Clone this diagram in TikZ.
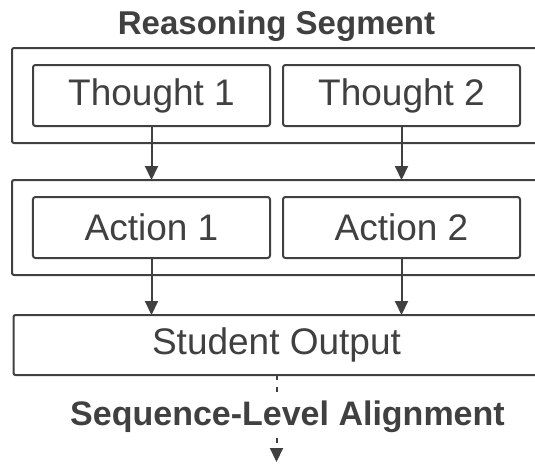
\documentclass[tikz,border=0pt]{standalone}
\usepackage{fontspec}
\setmainfont{Liberation Sans}
\usepackage{tikz}
\usetikzlibrary{matrix,positioning,arrows.meta}
\definecolor{inkgray}{HTML}{404040}

\begin{document}
\begin{tikzpicture}[x=1pt, y=1pt, >={Triangle[length=14pt,width=13pt]}]
\tikzset{
stepbox/.style={
  draw=inkgray,
  line width=2pt,
  rounded corners=2.5pt,
  minimum width=237pt,
  minimum height=61pt,
  inner sep=0pt,
  outer sep=0pt,
  text=inkgray,
  font=\fontsize{37}{40}\selectfont
  },
segmat/.style={
  matrix,
  draw=inkgray,
  line width=2pt,
  rounded corners=2pt,
  inner xsep=20pt,
  inner ysep=16pt,
  outer sep=0pt,
  column sep=11pt,
  style={nodes=stepbox}
  },
headtext/.style={
  text=inkgray,
  inner xsep=0pt,
  inner ysep=6pt,
  font=\bfseries\fontsize{34}{38}\selectfont
  }
}

\useasboundingbox (0,0) rectangle (535,-463);
\clip (0,0) rectangle (535,-463);

\matrix [segmat, anchor=north west] at (12,-48)
(thoughts)
{
    \node (th1) {Thought 1}; & \node (th2) {Thought 2}; \\
};
\matrix [segmat, below=37pt of thoughts]
(actions)
{
    \node (ac1) {Action 1}; & \node (ac2) {Action 2}; \\
};
\node[stepbox, minimum width=526pt, minimum height=60pt, rounded corners=2pt,
      below=40pt of actions] (student) {Student Output};

\node[headtext, font=\bfseries\fontsize{33}{36}\selectfont,
      above=14pt of thoughts.north, anchor=base] (seglabel) {Reasoning Segment};
\node[headtext, below=50pt of student.south, anchor=base, xshift=11pt]
      (alignlabel) {Sequence-Level Alignment};
\coordinate (alignend) at (student.south |- 0,-462);

\begin{scope}[draw=inkgray, line width=2pt]
    \draw[->] (th1.south) -- (th1 |- actions.north);
    \draw[->] (th2.south) -- (th2 |- actions.north);
    \draw[->] (ac1.south) -- (ac1 |- student.north);
    \draw[->] (ac2.south) -- (ac2 |- student.north);
    \draw[dash pattern=on 5pt off 7pt] (student.south) -- (student.south |- alignlabel.north);
    \draw[->, dash pattern=on 5pt off 7pt] (student.south |- alignlabel.south) -- (alignend);
\end{scope}

\end{tikzpicture}
\end{document}
